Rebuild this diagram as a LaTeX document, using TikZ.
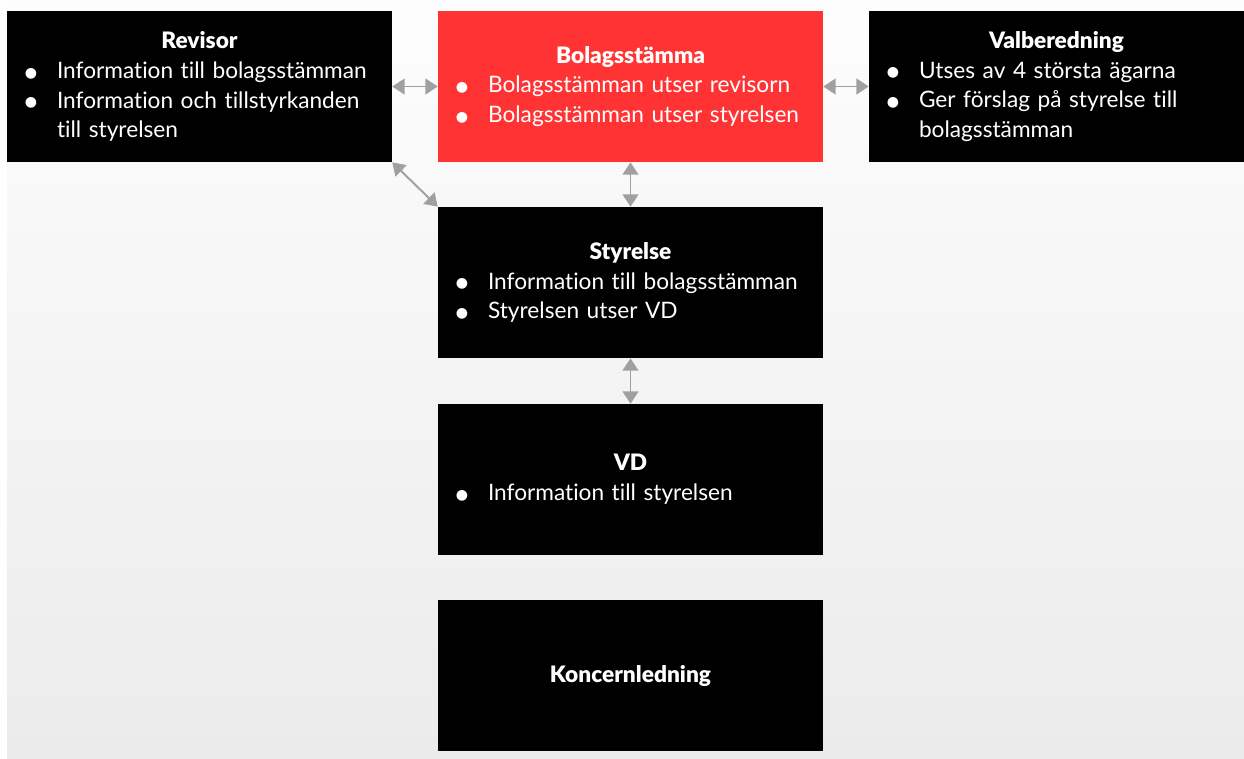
\documentclass[tikz,border=0pt]{standalone}
\usepackage{fontspec}
\setmainfont{Lato}[Ligatures=NoCommon, BoldFont={Lato Black}]
\newfontfamily\dejavu{DejaVu Sans}
\usetikzlibrary{arrows.meta}

\definecolor{rod}{HTML}{FF3333}
\definecolor{pil}{HTML}{A0A0A0}
\definecolor{bgtop}{HTML}{FDFDFD}
\definecolor{bgbot}{HTML}{EBEBEB}

\newcommand{\rubrik}[1]{{\centering\bfseries #1\par}}
\newcommand{\punkt}[1]{{\raggedright\leftskip=1cm\noindent\hspace*{-0.52cm}\makebox[0pt][c]{\raisebox{0.6pt}{\dejavu\footnotesize ●}}\hspace*{0.52cm}#1\par}}

\tikzset{
  ruta/.style={fill=black, text=white, inner sep=0pt, minimum width=7.7cm, text width=7.7cm,
    minimum height=3.02cm, font=\fontsize{12.9pt}{17pt}\selectfont},
  pilar/.style={pil, line width=1.1pt, {Triangle[length=7pt,width=9pt]}-{Triangle[length=7pt,width=9pt]}}
}

\begin{document}
\begin{tikzpicture}[x=0.02cm, y=-0.02cm]
	\useasboundingbox (0,0) rectangle (1244,758);
	\shade [top color=bgtop, bottom color=bgbot] (7,0) rectangle (1244,758);

	% rutorna
	\node [ruta] (revisor) at (199.5,86.5) {\rubrik{Revisor}
		\punkt{Information till bolagsstämman}
		\punkt{Information och tillstyrkanden\\till styrelsen}};
	\node [ruta, fill=rod] (stamma) at (630.5,86.5) {\rubrik{Bolagsstämma}
		\punkt{Bolagsstämman utser revisorn}
		\punkt{Bolagsstämman utser styrelsen}};
	\node [ruta, minimum width=7.5cm, text width=7.5cm] (valb) at (1056.5,86.5) {\rubrik{Valberedning}
		\punkt{Utses av 4 största ägarna}
		\punkt{Ger förslag på styrelse till\\bolagsstämman}};
	\node [ruta] (styrelse) at (630.5,282.5) {\rubrik{Styrelse}
		\punkt{Information till bolagsstämman}
		\punkt{Styrelsen utser VD}};
	\node [ruta] (vd) at (630.5,479.5) {\rubrik{VD}
		\punkt{Information till styrelsen}};
	\node [ruta] (koncern) at (630.5,675.5) {\rubrik{Koncernledning}};

	% pilar
	\draw [pilar] (revisor.east) -- (stamma.west);
	\draw [pilar] (stamma.east) -- (valb.west);
	\draw [pilar] (stamma.south) -- (styrelse.north);
	\draw [pilar] (styrelse.south) -- (vd.north);
	\draw [pilar] (revisor.south east) -- (styrelse.north west);
\end{tikzpicture}
\end{document}
